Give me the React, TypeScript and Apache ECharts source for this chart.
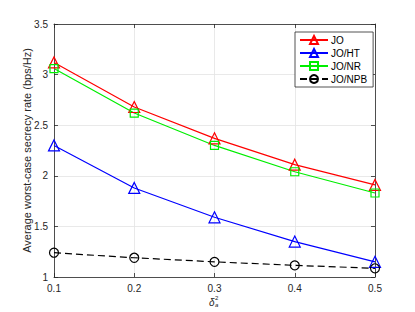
import React, { useEffect, useRef } from "react";
import * as echarts from "echarts";

const xValues = [0.1, 0.2, 0.3, 0.4, 0.5];
const joValues = [3.12, 2.68, 2.37, 2.11, 1.91];
const joHtValues = [2.3, 1.88, 1.59, 1.35, 1.15];
const joNrValues = [3.06, 2.62, 2.3, 2.04, 1.83];
const joNpbValues = [1.24, 1.19, 1.15, 1.115, 1.086];
const seriesNames = ["JO", "JO/HT", "JO/NR", "JO/NPB"];
const yAxisTitle = "Average worst-case secrecy rate (bps/Hz)";

const FONT = "Liberation Sans, Arial, sans-serif";
const AX = "#262626";

export default function App() {
  const ref = useRef<HTMLDivElement>(null);
  useEffect(() => {
    if (!ref.current) return;
    const chart = echarts.init(ref.current, undefined, { renderer: "svg" });
    const mk = (name: string, data: number[], color: string, symbol: string, size: number, dashed = false) => ({
      name,
      type: "line",
      data: xValues.map((x, i) => [x, data[i]]),
      xAxisIndex: 0,
      yAxisIndex: 0,
      symbol,
      symbolSize: size,
      showAllSymbol: true,
      lineStyle: { color, width: 1.2, type: dashed ? [7, 4] : "solid" },
      itemStyle: { color: "rgba(255,255,255,0)", borderColor: color, borderWidth: 1.2 },
      emphasis: { disabled: true },
    });
    const tickCommon = { show: true, inside: true, length: 4, lineStyle: { color: AX, width: 0.8 } };
    chart.setOption({
      animation: false,
      backgroundColor: "#fff",
      textStyle: { fontFamily: FONT },
      grid: { left: 54, right: 40, top: 24, bottom: 35, show: false },
      legend: {
        orient: "vertical",
        left: 295,
        top: 32,
        width: 72,
        padding: [3, 6, 3, 4],
        itemGap: 3,
        itemWidth: 28,
        itemHeight: 10,
        backgroundColor: "#fff",
        borderColor: AX,
        borderWidth: 0.8,
        borderRadius: 0,
        textStyle: { fontSize: 10, color: "#000", fontFamily: FONT, padding: [0, 0, 0, -2] },
        data: seriesNames,
      },
      xAxis: [
        {
          type: "value",
          min: 0.1,
          max: 0.5,
          interval: 0.1,
          axisLine: { show: true, lineStyle: { color: AX, width: 0.8 } },
          axisTick: tickCommon,
          axisLabel: { color: AX, fontSize: 10, margin: 6, formatter: (v: number) => v.toFixed(1) },
          splitLine: { show: true, lineStyle: { color: "#e3e3e3", width: 0.8 } },
        },
        {
          type: "value",
          position: "top",
          min: 0.1,
          max: 0.5,
          interval: 0.1,
          axisLine: { show: true, onZero: false, lineStyle: { color: AX, width: 0.8 } },
          axisTick: tickCommon,
          axisLabel: { show: false },
          splitLine: { show: false },
        },
      ],
      yAxis: [
        {
          type: "value",
          min: 1,
          max: 3.5,
          interval: 0.5,
          name: yAxisTitle,
          nameLocation: "middle",
          nameGap: 22,
          nameMoveOverlap: false,
          nameTextStyle: { color: AX, fontSize: 11, fontFamily: FONT },
          axisLine: { show: true, lineStyle: { color: AX, width: 0.8 } },
          axisTick: tickCommon,
          axisLabel: { color: AX, fontSize: 10, margin: 6 },
          splitLine: { show: true, lineStyle: { color: "#e3e3e3", width: 0.8 } },
        },
        {
          type: "value",
          position: "right",
          min: 1,
          max: 3.5,
          interval: 0.5,
          axisLine: { show: true, onZero: false, lineStyle: { color: AX, width: 0.8 } },
          axisTick: tickCommon,
          axisLabel: { show: false },
          splitLine: { show: false },
        },
      ],
      graphic: [
        {
          type: "group",
          left: 209,
          top: 295,
          children: [
            { type: "text", x: 0, y: 2, style: { text: "δ", font: `italic 10px ${FONT}`, fill: AX } },
            { type: "text", x: 6, y: 0, style: { text: "2", font: `6px ${FONT}`, fill: AX } },
            { type: "text", x: 6, y: 7, style: { text: "a", font: `italic 6px ${FONT}`, fill: AX } },
          ],
        },
      ],
      series: [
        mk(seriesNames[0], joValues, "#ff0000", "triangle", 11),
        mk(seriesNames[1], joHtValues, "#0000ff", "triangle", 11),
        mk(seriesNames[2], joNrValues, "#00ee00", "rect", 8),
        mk(seriesNames[3], joNpbValues, "#000000", "circle", 9, true),
      ],
    });
    return () => chart.dispose();
  }, []);
  return <div ref={ref} style={{ position: "fixed", left: 0, top: 0, width: 415, height: 312 }} />;
}
